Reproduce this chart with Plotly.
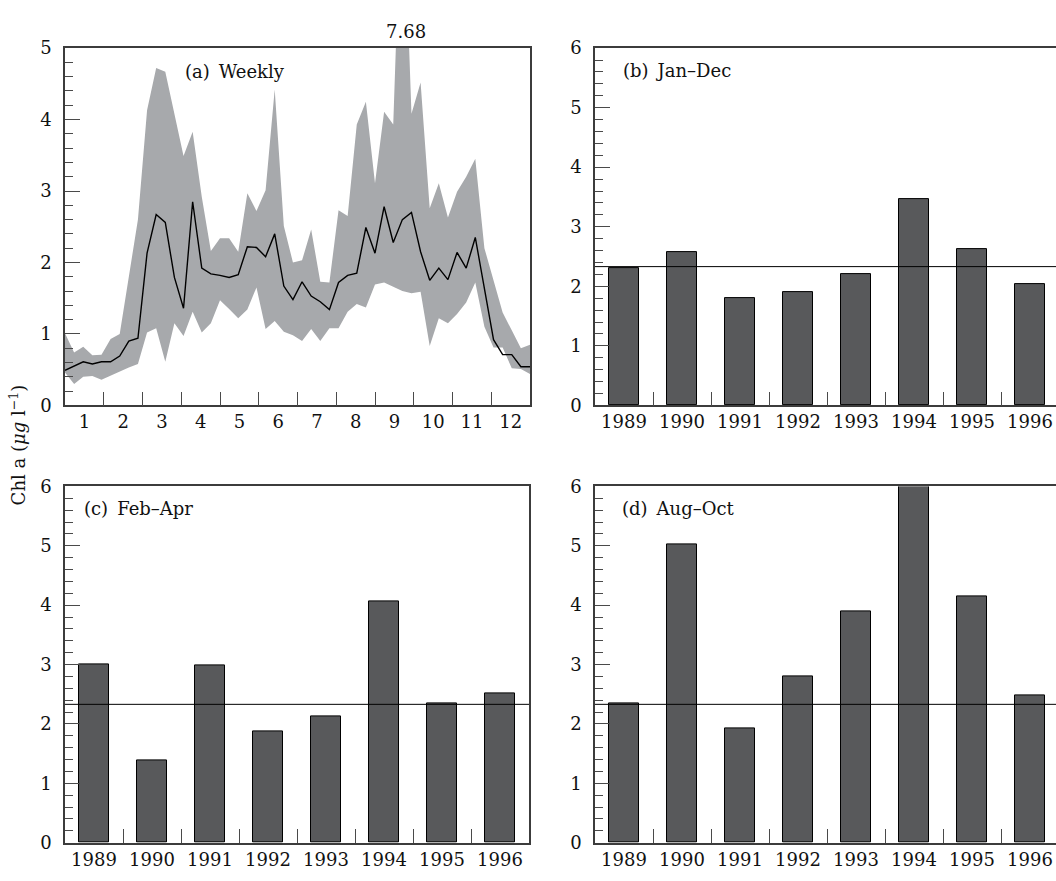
import plotly.graph_objects as go

# ---------------- data ----------------
WEEKS = list(range(1, 53))
WEEKLY_MEAN = [0.49, 0.55, 0.61, 0.58, 0.61, 0.61, 0.69, 0.90, 0.94, 2.13,
               2.67, 2.56, 1.79, 1.36, 2.85, 1.92, 1.84, 1.82, 1.79, 1.83,
               2.22, 2.21, 2.08, 2.40, 1.67, 1.48, 1.73, 1.53, 1.45, 1.34,
               1.72, 1.82, 1.85, 2.49, 2.13, 2.78, 2.28, 2.60, 2.70, 2.15,
               1.75, 1.92, 1.76, 2.14, 1.92, 2.35, 1.63, 0.92, 0.71, 0.71,
               0.54, 0.54]
WEEKLY_MAX = [1.01, 0.74, 0.82, 0.70, 0.71, 0.93, 1.00, 1.80, 2.60, 4.13,
              4.72, 4.67, 4.06, 3.49, 3.83, 2.92, 2.16, 2.34, 2.34, 2.15,
              2.97, 2.72, 3.01, 4.42, 2.51, 2.00, 2.03, 2.46, 1.73, 1.72,
              2.73, 2.65, 3.93, 4.25, 3.11, 4.11, 3.93, 7.68, 4.08, 4.52,
              2.76, 3.11, 2.63, 2.99, 3.20, 3.45, 2.20, 1.75, 1.30, 1.05,
              0.80, 0.85]
WEEKLY_MIN = [0.46, 0.30, 0.40, 0.41, 0.36, 0.42, 0.47, 0.53, 0.58, 1.02,
              1.08, 0.61, 1.15, 0.97, 1.31, 1.02, 1.15, 1.47, 1.35, 1.22,
              1.34, 1.65, 1.07, 1.18, 1.03, 0.98, 0.90, 1.07, 0.90, 1.08,
              1.08, 1.31, 1.42, 1.37, 1.69, 1.72, 1.66, 1.60, 1.57, 1.59,
              0.83, 1.22, 1.15, 1.28, 1.44, 1.72, 1.10, 0.81, 0.81, 0.52,
              0.51, 0.44]
MONTHS = list(range(1, 13))
MONTH_LABELS = [str(m) for m in MONTHS]

YEARS = [1989, 1990, 1991, 1992, 1993, 1994, 1995, 1996]
YEAR_LABELS = [str(y) for y in YEARS]
JAN_DEC = [2.30, 2.57, 1.81, 1.91, 2.20, 3.47, 2.62, 2.04]
FEB_APR = [3.01, 1.38, 2.98, 1.87, 2.12, 4.06, 2.34, 2.52]
AUG_OCT = [2.34, 5.02, 1.92, 2.80, 3.90, 6.00, 4.14, 2.48]
OVERALL_MEAN = 2.33

# ---------------- style ----------------
W, H = 1056, 881
FONT = "DejaVu Serif"
FS = 18
AXC = "#3c3c3c"
TICKC = "#4a4a4a"
BAR_FILL = "#58595b"
BAND = "#a7a9ac"


def px_x(p):
    return p / W


def px_y(p):
    return 1 - p / H


x_month = [(w - 1) * 12 / 51 for w in WEEKS]

fig = go.Figure()

# panel (a)
fig.add_trace(go.Scatter(x=x_month, y=WEEKLY_MIN, mode="lines", line=dict(width=0, color=BAND),
                         showlegend=False, hoverinfo="skip", xaxis="x", yaxis="y"))
fig.add_trace(go.Scatter(x=x_month, y=WEEKLY_MAX, mode="lines", line=dict(width=0, color=BAND),
                         fill="tonexty", fillcolor=BAND, showlegend=False, hoverinfo="skip",
                         xaxis="x", yaxis="y"))
fig.add_trace(go.Scatter(x=x_month, y=WEEKLY_MEAN, mode="lines", line=dict(width=1.4, color="black"),
                         showlegend=False, xaxis="x", yaxis="y"))

# bar panels
for vals, xa, ya in [(JAN_DEC, "x2", "y2"), (FEB_APR, "x3", "y3"), (AUG_OCT, "x4", "y4")]:
    fig.add_trace(go.Bar(x=YEARS, y=vals, width=0.53, marker=dict(color=BAR_FILL,
                         line=dict(color="black", width=1)), showlegend=False,
                         xaxis=xa, yaxis=ya))

# invisible traces so label (overlay) axes exist
for xa, ya in [("x5", "y"), ("x6", "y2"), ("x7", "y3"), ("x8", "y4")]:
    fig.add_trace(go.Scatter(x=[None], y=[None], mode="markers", showlegend=False,
                             hoverinfo="skip", xaxis=xa, yaxis=ya))

font = dict(family=FONT, size=FS, color="#111111")

common_axis = dict(showline=True, linecolor=AXC, linewidth=1.5, showgrid=False,
                   zeroline=False, tickfont=font, tickcolor=TICKC)

# domains (paper fractions)
A_X = [px_x(65), px_x(530)]
B_X = [px_x(595), 1.0]
C_X = [px_x(65), px_x(529)]
TOP_Y = [px_y(404), px_y(38)]
BOT_Y = [px_y(852), px_y(487)]

year_lo = YEARS[0] - 0.5
year_hi_full = YEARS[-1] + 0.5
pitch = (529 - 65) / (year_hi_full - year_lo)
year_hi_cut = year_lo + (W - 595) / pitch


def boundary_axis(rng, dom, anchor, bounds):
    # axis carrying the frame and the boundary tick marks (no labels)
    return dict(common_axis, range=rng, domain=dom, anchor=anchor, mirror=True,
                tickmode="array", tickvals=bounds, ticks="inside", ticklen=14,
                tickwidth=1.2, showticklabels=False)


def label_axis(rng, over, anchor, centers, texts):
    # overlay axis carrying the centred category labels (no ticks, no line)
    return dict(range=rng, overlaying=over, anchor=anchor, side="bottom",
                showline=False, showgrid=False, zeroline=False, ticks="",
                tickmode="array", tickvals=centers, ticktext=texts, tickfont=font,
                ticklabelstandoff=4)


def value_axis(rng, dom, anchor, mirror):
    return dict(common_axis, range=rng, domain=dom, anchor=anchor, mirror=mirror,
                tickmode="linear", tick0=0, dtick=1, ticks="inside", ticklen=15, tickwidth=1.2,
                ticklabelstandoff=8,
                minor=dict(tick0=0, dtick=0.2, ticks="inside", ticklen=8, tickcolor=TICKC,
                           tickwidth=1.2))


month_bounds = MONTHS[:-1]
month_centers = [m - 0.5 for m in MONTHS]
year_bounds = [y + 0.5 for y in YEARS[:-1]]

fig.update_layout(
    width=W, height=H,
    margin=dict(l=0, r=0, t=0, b=0),
    paper_bgcolor="white", plot_bgcolor="white",
    font=font,
    bargap=0,
    xaxis=boundary_axis([0, 12], A_X, "y", month_bounds),
    yaxis=value_axis([0, 5], TOP_Y, "x", True),
    xaxis2=boundary_axis([year_lo, year_hi_cut], B_X, "y2", year_bounds),
    yaxis2=value_axis([0, 6], TOP_Y, "x2", False),
    xaxis3=boundary_axis([year_lo, year_hi_full], C_X, "y3", year_bounds),
    yaxis3=value_axis([0, 6], BOT_Y, "x3", True),
    xaxis4=boundary_axis([year_lo, year_hi_cut], B_X, "y4", year_bounds),
    yaxis4=value_axis([0, 6], BOT_Y, "x4", False),
    xaxis5=label_axis([0, 12], "x", "y", month_centers, MONTH_LABELS),
    xaxis6=label_axis([year_lo, year_hi_cut], "x2", "y2", YEARS, YEAR_LABELS),
    xaxis7=label_axis([year_lo, year_hi_full], "x3", "y3", YEARS, YEAR_LABELS),
    xaxis8=label_axis([year_lo, year_hi_cut], "x4", "y4", YEARS, YEAR_LABELS),
)

# overall mean lines
for xa, ya in [("x2", "y2"), ("x3", "y3"), ("x4", "y4")]:
    fig.add_shape(type="line", xref=f"{xa} domain", yref=ya, x0=0, x1=1,
                  y0=OVERALL_MEAN, y1=OVERALL_MEAN, line=dict(color="black", width=1))

# panel labels
labels = [("(a)\u2002Weekly", 183, 62), ("(b)\u2002Jan\u2013Dec", 621, 61),
          ("(c)\u2002Feb\u2013Apr", 82, 510), ("(d)\u2002Aug\u2013Oct", 620, 510)]
for txt, lx, ly in labels:
    fig.add_annotation(text=txt, xref="paper", yref="paper", x=px_x(lx), y=px_y(ly),
                       xanchor="left", yanchor="middle", showarrow=False, font=font)

# clipped peak value
imax = max(range(len(WEEKLY_MAX)), key=lambda i: WEEKLY_MAX[i])
fig.add_annotation(text=f"{WEEKLY_MAX[imax]:.2f}", xref="x", yref="paper",
                   x=x_month[imax] + 0.1, y=px_y(21), xanchor="center", yanchor="middle",
                   showarrow=False, font=font)

# y-axis title
fig.add_annotation(text="Chl a (<i>\u03bcg</i> l<sup>\u22121</sup>)", xref="paper", yref="paper",
                   x=px_x(18), y=px_y(445), textangle=-90, xanchor="center", yanchor="middle",
                   showarrow=False, font=font)

fig.write_html("out.html")
